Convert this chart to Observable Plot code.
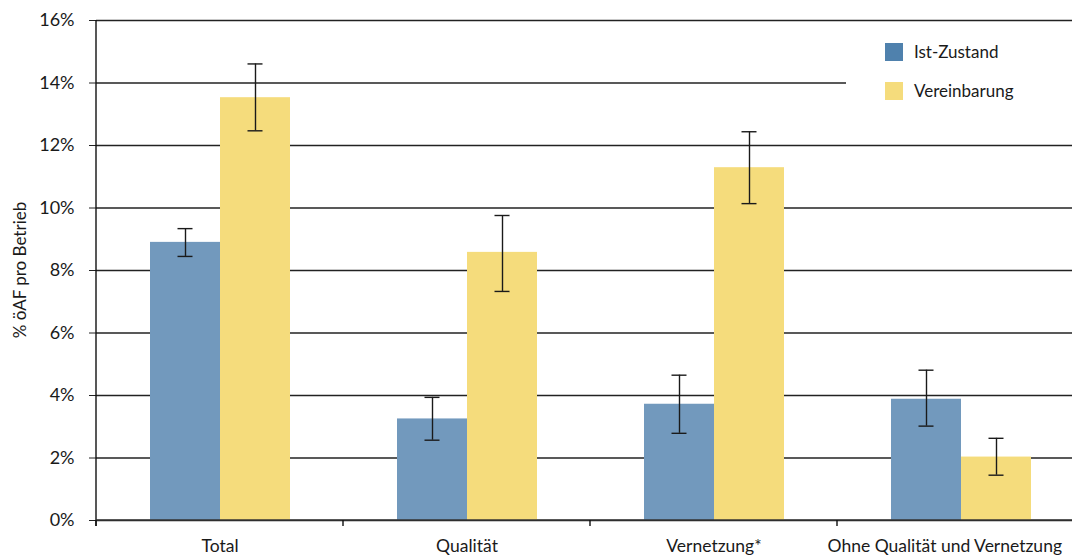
<!DOCTYPE html>
<html><head><meta charset="utf-8">
<script src="https://cdn.jsdelivr.net/npm/d3@7"></script>
<script src="https://cdn.jsdelivr.net/npm/@observablehq/plot@0.6"></script>
<style>
html,body{margin:0;padding:0;background:#fff;overflow:hidden}
#wrap{position:relative;width:1072px;height:558px;font-family:Lato,"Open Sans",sans-serif}
#legend{position:absolute;left:846px;top:23px;width:226px;height:112px;background:#fff}
.item{position:absolute;left:39px;font-size:17px;color:#1a1a1a;line-height:18px;white-space:nowrap}
.sw{position:absolute;left:0;top:0;width:18px;height:18px}
.lab{position:absolute;left:29px;top:0px}
svg{overflow:visible}
</style></head><body>
<div id="wrap"><div id="legend"></div></div>
<script>
const categories = ["Total", "Qualität", "Vernetzung*", "Ohne Qualität und Vernetzung"];
const seriesNames = ["Ist-Zustand", "Vereinbarung"];
const istValues = [8.9, 3.25, 3.72, 3.88];
const istLow    = [8.45, 2.57, 2.79, 3.02];
const istHigh   = [9.34, 3.94, 4.65, 4.81];
const verValues = [13.53, 8.58, 11.29, 2.03];
const verLow    = [12.47, 7.33, 10.14, 1.45];
const verHigh   = [14.61, 9.76, 12.44, 2.63];
const yTicks = [0, 2, 4, 6, 8, 10, 12, 14, 16];
const yLabel = "% öAF pro Betrieb";
const barColors = ["#7299bd", "#f5dc7c"];
const legendColors = ["#4f81ad", "#f5dc7c"];

const rows = [];
categories.forEach((c, i) => {
  rows.push({cat: c, series: seriesNames[0], value: istValues[i], lo: istLow[i], hi: istHigh[i]});
  rows.push({cat: c, series: seriesNames[1], value: verValues[i], lo: verLow[i], hi: verHigh[i]});
});

const plot = Plot.plot({
  width: 1072,
  height: 558,
  marginLeft: 95,
  marginRight: -12,
  marginTop: 20,
  marginBottom: 38,
  style: {fontFamily: "Lato, 'Open Sans', sans-serif", background: "#fff", color: "#1a1a1a"},
  fx: {domain: categories, paddingInner: 0, paddingOuter: 0, label: null},
  x: {domain: seriesNames, paddingInner: 0, paddingOuter: 0.764, axis: null},
  y: {domain: [0, 16], ticks: yTicks},
  color: {domain: seriesNames, range: barColors},
  marks: [
    Plot.ruleY(yTicks, {stroke: "#222", strokeWidth: 1.3}),
    Plot.barY(rows, {fx: "cat", x: "series", y: "value", fill: "series"}),
    Plot.ruleX(rows, {fx: "cat", x: "series", y1: "lo", y2: "hi", stroke: "#1a1a1a", strokeWidth: 1.4}),
    Plot.tickY(rows, {fx: "cat", x: "series", y: "lo", stroke: "#1a1a1a", strokeWidth: 1.4, insetLeft: 27.5, insetRight: 27.5}),
    Plot.tickY(rows, {fx: "cat", x: "series", y: "hi", stroke: "#1a1a1a", strokeWidth: 1.4, insetLeft: 27.5, insetRight: 27.5}),
    Plot.axisY({ticks: yTicks, tickSize: 7, tickPadding: 15, fontSize: 18, tickFormat: d => d + "%", label: null, stroke: "#222"}),
    Plot.axisFx({anchor: "bottom", tickSize: 0, tickPadding: 19, fontSize: 17.5, label: null})
  ]
});

document.getElementById("wrap").prepend(plot);

// extra axis lines using the plot's own scales
const svgNode = plot.tagName.toLowerCase() === "svg" ? plot : plot.querySelector("svg");
const svg = d3.select(svgNode);
const fx = plot.scale("fx"), y = plot.scale("y");
const x0 = fx.apply(categories[0]);
const y0 = y.apply(0), yTop = y.apply(16);
svg.append("line").attr("x1", x0).attr("x2", x0).attr("y1", yTop).attr("y2", y0 + 6)
  .attr("stroke", "#111").attr("stroke-width", 1.4);
svg.append("line").attr("x1", x0).attr("x2", 1072).attr("y1", y0).attr("y2", y0)
  .attr("stroke", "#333").attr("stroke-width", 1.6);
categories.forEach(c => {
  const xb = fx.apply(c);
  svg.append("line").attr("x1", xb).attr("x2", xb).attr("y1", y0).attr("y2", y0 + 6)
    .attr("stroke", "#111").attr("stroke-width", 1.4);
});
svg.append("text")
  .attr("transform", `translate(22,${(y0 + yTop) / 2}) rotate(-90)`)
  .attr("text-anchor", "middle").attr("dominant-baseline", "middle")
  .attr("font-size", 17).attr("fill", "#1a1a1a").text(yLabel);

// keep the last category label inside the picture, as in the reference
const svgLeft = svgNode.getBoundingClientRect().left;
svg.selectAll("text").each(function () {
  if (this.textContent !== categories[categories.length - 1]) return;
  const r = this.getBoundingClientRect();
  const over = (r.right - svgLeft) - 1062;
  if (over > 0) d3.select(this).attr("x", -over);
});

// legend
const leg = document.getElementById("legend");
seriesNames.forEach((s, i) => {
  const it = document.createElement("div");
  it.className = "item";
  it.style.top = (20 + i * 39) + "px";
  it.innerHTML = `<span class="sw" style="background:${legendColors[i]}"></span><span class="lab">${s}</span>`;
  leg.appendChild(it);
});
</script>
</body></html>
